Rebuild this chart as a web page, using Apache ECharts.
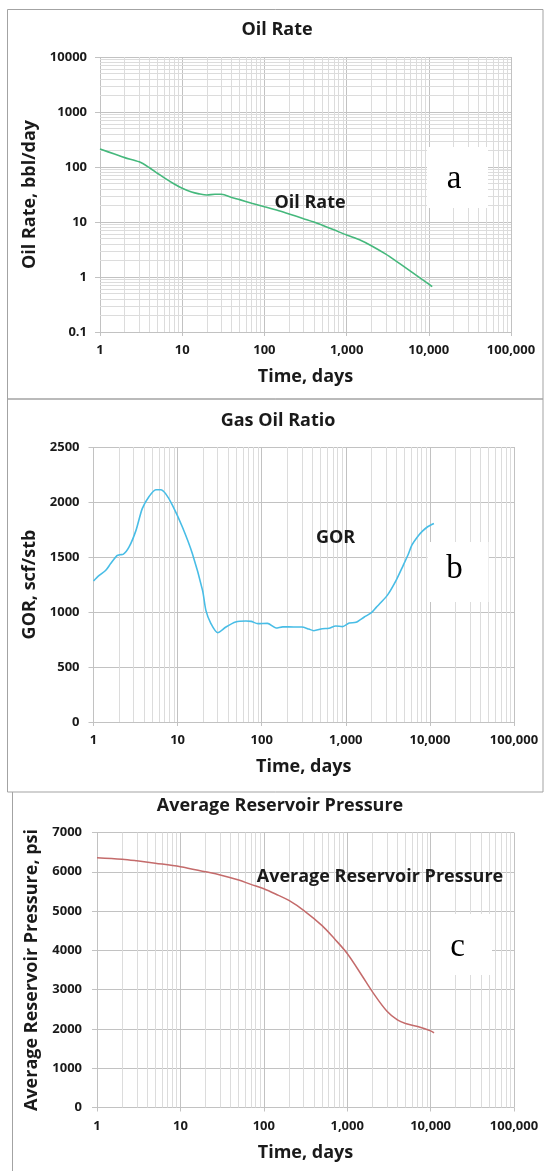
<!DOCTYPE html>
<html>
<head>
<meta charset="utf-8">
<title>Oil Rate, Gas Oil Ratio and Average Reservoir Pressure</title>
<script src="https://cdn.jsdelivr.net/npm/echarts@6.0.0/dist/echarts.min.js"></script>
<style>
  html, body { margin: 0; padding: 0; background: #ffffff; }
  #chart { width: 545px; height: 1171px; }
</style>
</head>
<body>
<div id="chart"></div>
<script>
// ---- Oil rate, bbl/day ----
const oilDays = [1, 1.5, 2, 3, 4, 5, 6, 8, 10, 13, 16, 20, 25, 30, 40, 50, 70, 100, 150, 200, 300, 400, 500, 700, 1000, 1500, 2000, 3000, 4000, 5000, 7000, 10000, 11000];
const oilRate = [212, 172, 148, 124, 97, 77, 64, 49, 41, 35, 32.5, 31, 32, 32, 28, 25.5, 22, 19, 16, 14, 11.5, 10, 8.8, 7.2, 5.8, 4.6, 3.7, 2.6, 1.95, 1.55, 1.08, 0.74, 0.67];

// ---- Gas oil ratio, scf/stb ----
const gorDays = [1, 1.17, 1.4, 1.6, 1.9, 2.05, 2.25, 2.65, 3.2, 3.8, 4.6, 5.5, 6.3, 7.2, 8.7, 11.4, 15, 19.8, 21.7, 24.9, 29.9, 37.6, 49, 65, 75, 90, 117, 148, 178, 240, 300, 363, 417, 525, 631, 759, 912, 1100, 1320, 1660, 2000, 2300, 2630, 3160, 3980, 4790, 5500, 6120, 7060, 8150, 9400, 11160];
const gorValues = [1282, 1333, 1379, 1440, 1512, 1521, 1524, 1591, 1742, 1940, 2052, 2112, 2112, 2076, 1970, 1773, 1530, 1197, 1015, 894, 812, 864, 909, 918, 915, 894, 897, 855, 865, 864, 864, 845, 830, 848, 852, 873, 867, 900, 906, 955, 991, 1042, 1088, 1158, 1290, 1420, 1520, 1610, 1680, 1735, 1775, 1805];

// ---- Average reservoir pressure, psi ----
const presDays = [1, 2, 3, 5, 10, 20, 30, 50, 70, 100, 150, 200, 300, 500, 700, 1000, 1500, 2000, 3000, 4000, 5000, 7000, 10000, 11000];
const presValues = [6360, 6320, 6280, 6220, 6130, 6000, 5920, 5790, 5680, 5570, 5400, 5270, 5020, 4630, 4300, 3920, 3360, 2950, 2450, 2230, 2140, 2060, 1950, 1900];

// ---- Tick labels ----
const timeTickLabels = ['1', '10', '100', '1,000', '10,000', '100,000'];
const oilTickLabels = ['0.1', '1', '10', '100', '1000', '10000'];

const FONT = "'Open Sans', 'Liberation Sans', sans-serif";
const SERIF = "'Liberation Serif', 'DejaVu Serif', serif";
const INK = '#1a1a1a';
const MAJOR = '#c2c2c2';
const MINOR = '#dcdcdc';

// 2..9 × 10^e for every decade between the two exponents
function minorValues(fromExp, toExp) {
  const out = [];
  for (let e = fromExp; e < toExp; e++) {
    for (let m = 2; m <= 9; m++) out.push(+(m * Math.pow(10, e)).toPrecision(6));
  }
  return out;
}

function minorGrid(xVals, yVals) {
  return {
    silent: true,
    z: 1,
    animation: false,
    symbol: ['none', 'none'],
    label: { show: false },
    emphasis: { disabled: true },
    lineStyle: { color: MINOR, width: 1, type: 'solid' },
    data: xVals.map(v => ({ xAxis: v })).concat(yVals.map(v => ({ yAxis: v })))
  };
}

function pairs(xs, ys) { return xs.map((x, i) => [x, ys[i]]); }

const tickLabelStyle = { color: INK, fontFamily: FONT, fontWeight: 'bold', fontSize: 13 };
const nameStyle = { color: INK, fontFamily: FONT, fontWeight: 'bold', fontSize: 18 };

function timeAxis(gridIndex) {
  return {
    type: 'log', logBase: 10, min: 1, max: 100000, gridIndex,
    axisLine: { show: false },
    axisTick: { show: true, length: 4, lineStyle: { color: MAJOR } },
    axisLabel: Object.assign({ margin: 12, formatter: (v, i) => timeTickLabels[i] }, tickLabelStyle),
    splitLine: { show: true, lineStyle: { color: MAJOR, width: 1 } },
    name: 'Time, days', nameLocation: 'middle', nameGap: 36, nameTextStyle: nameStyle
  };
}

function plainNumber(v) { return String(Math.round(v)); }

const chart = echarts.init(document.getElementById('chart'), null, { renderer: 'canvas' });

const option = {
  animation: false,
  backgroundColor: '#ffffff',
  grid: [
    { left: 100, top: 57, width: 411, height: 275 },
    { left: 93.5, top: 447, width: 420.5, height: 275 },
    { left: 97, top: 832.5, width: 417, height: 275 }
  ],
  xAxis: [timeAxis(0), timeAxis(1), timeAxis(2)],
  yAxis: [
    {
      type: 'log', logBase: 10, min: 0.1, max: 10000, gridIndex: 0,
      axisLine: { show: false },
      axisTick: { show: true, length: 5, lineStyle: { color: MAJOR } },
      axisLabel: Object.assign({ margin: 13, formatter: (v, i) => oilTickLabels[i] }, tickLabelStyle),
      splitLine: { show: true, lineStyle: { color: MAJOR, width: 1 } },
      name: 'Oil Rate, bbl/day', nameLocation: 'middle', nameGap: 57, nameTextStyle: nameStyle
    },
    {
      type: 'value', min: 0, max: 2500, interval: 500, gridIndex: 1,
      axisLine: { show: false },
      axisTick: { show: true, length: 5, lineStyle: { color: MAJOR } },
      axisLabel: Object.assign({ margin: 14, formatter: plainNumber }, tickLabelStyle),
      splitLine: { show: true, lineStyle: { color: MAJOR, width: 1 } },
      name: 'GOR, scf/stb', nameLocation: 'middle', nameGap: 51, nameTextStyle: nameStyle
    },
    {
      type: 'value', min: 0, max: 7000, interval: 1000, gridIndex: 2,
      axisLine: { show: false },
      axisTick: { show: true, length: 5, lineStyle: { color: MAJOR } },
      axisLabel: Object.assign({ margin: 15, formatter: plainNumber }, tickLabelStyle),
      splitLine: { show: true, lineStyle: { color: MAJOR, width: 1 } },
      name: 'Average Reservoir Pressure, psi', nameLocation: 'middle', nameGap: 51, nameTextStyle: nameStyle
    }
  ],
  series: [
    {
      name: 'Oil Rate', type: 'line', xAxisIndex: 0, yAxisIndex: 0,
      data: pairs(oilDays, oilRate), showSymbol: false, smooth: 0.3, z: 3,
      lineStyle: { color: '#45b87c', width: 1.6 },
      markLine: minorGrid(minorValues(0, 5), minorValues(-1, 4))
    },
    {
      name: 'GOR', type: 'line', xAxisIndex: 1, yAxisIndex: 1,
      data: pairs(gorDays, gorValues), showSymbol: false, smooth: 0.25, z: 3,
      lineStyle: { color: '#48bde6', width: 1.6 },
      markLine: minorGrid(minorValues(0, 5), [])
    },
    {
      name: 'Average Reservoir Pressure', type: 'line', xAxisIndex: 2, yAxisIndex: 2,
      data: pairs(presDays, presValues), showSymbol: false, smooth: 0.35, z: 3,
      lineStyle: { color: '#c46b6b', width: 1.5 },
      markLine: minorGrid(minorValues(0, 5), [])
    }
  ],
  graphic: [
    // panel frames
    { type: 'rect', z: 20, silent: true, shape: { x: 7.5, y: 9.5, width: 535.5, height: 389.5 }, style: { fill: 'none', stroke: '#a3a3a3', lineWidth: 1 } },
    { type: 'rect', z: 20, silent: true, shape: { x: 7.5, y: 399, width: 535.5, height: 393 }, style: { fill: 'none', stroke: '#a3a3a3', lineWidth: 1 } },
    { type: 'line', z: 20, silent: true, shape: { x1: 12.5, y1: 792, x2: 12.5, y2: 1171 }, style: { stroke: '#a3a3a3', lineWidth: 1 } },

    // chart titles
    { type: 'text', z: 20, silent: true, style: { text: 'Oil Rate', x: 277, y: 30, textAlign: 'center', textVerticalAlign: 'middle', font: 'bold 18px ' + FONT, fill: INK } },
    { type: 'text', z: 20, silent: true, style: { text: 'Gas Oil Ratio', x: 278, y: 421, textAlign: 'center', textVerticalAlign: 'middle', font: 'bold 18px ' + FONT, fill: INK } },
    { type: 'text', z: 20, silent: true, style: { text: 'Average Reservoir Pressure', x: 280, y: 806, textAlign: 'center', textVerticalAlign: 'middle', font: 'bold 18px ' + FONT, fill: INK } },

    // series labels inside the plots
    { type: 'text', z: 20, silent: true, style: { text: 'Oil Rate', x: 310, y: 203, textAlign: 'center', textVerticalAlign: 'middle', font: 'bold 18px ' + FONT, fill: INK } },
    { type: 'text', z: 20, silent: true, style: { text: 'GOR', x: 335.5, y: 538, textAlign: 'center', textVerticalAlign: 'middle', font: 'bold 18px ' + FONT, fill: INK } },
    { type: 'text', z: 20, silent: true, style: { text: 'Average Reservoir Pressure', x: 380, y: 877, textAlign: 'center', textVerticalAlign: 'middle', font: 'bold 18px ' + FONT, fill: INK } },

    // panel letters
    { type: 'rect', z: 15, silent: true, shape: { x: 427, y: 147, width: 61, height: 61 }, style: { fill: '#ffffff' } },
    { type: 'text', z: 20, silent: true, style: { text: 'a', x: 454, y: 179, textAlign: 'center', textVerticalAlign: 'middle', font: '33px ' + SERIF, fill: '#000000' } },
    { type: 'rect', z: 15, silent: true, shape: { x: 427.5, y: 542, width: 61, height: 60 }, style: { fill: '#ffffff' } },
    { type: 'text', z: 20, silent: true, style: { text: 'b', x: 454.5, y: 569, textAlign: 'center', textVerticalAlign: 'middle', font: '33px ' + SERIF, fill: '#000000' } },
    { type: 'rect', z: 15, silent: true, shape: { x: 431, y: 914, width: 61, height: 61 }, style: { fill: '#ffffff' } },
    { type: 'text', z: 20, silent: true, style: { text: 'c', x: 457.5, y: 947, textAlign: 'center', textVerticalAlign: 'middle', font: '33px ' + SERIF, fill: '#000000' } }
  ]
};

chart.setOption(option);
</script>
</body>
</html>
